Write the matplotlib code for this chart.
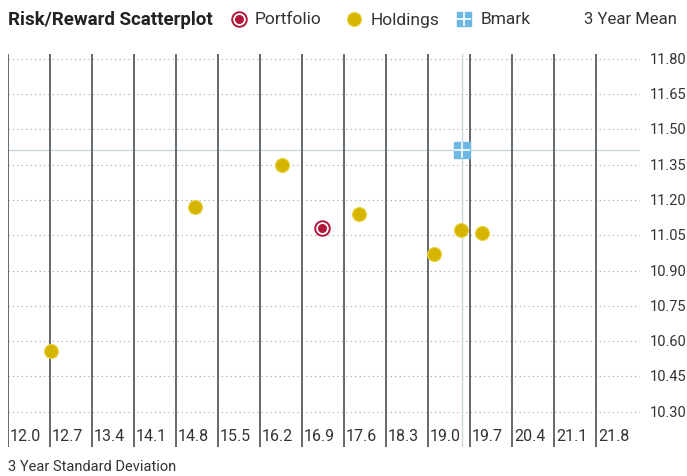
import matplotlib.pyplot as plt

# Datos
x_ticks = [12.0, 12.7, 13.4, 14.1, 14.8, 15.5, 16.2, 16.9, 17.6, 18.3, 19.0, 19.7, 20.4, 21.1, 21.8]
y_ticks = [11.80, 11.65, 11.50, 11.35, 11.20, 11.05, 10.90, 10.75, 10.60, 10.45, 10.30]

holdings_sd = [12.71, 15.12, 16.57, 17.85, 19.10, 19.55, 19.90]
holdings_mean = [10.56, 11.17, 11.35, 11.14, 10.97, 11.07, 11.06]

portfolio_sd = [17.23]
portfolio_mean = [11.08]

bmark_sd = [19.57]
bmark_mean = [11.41]

plt.rcParams['font.family'] = ['Roboto', 'DejaVu Sans']

fig = plt.figure(figsize=(6.87, 4.77), dpi=100)
ax = fig.add_axes([8 / 687, 1 - 448 / 477, 632 / 687, 393 / 477])
ax.set_xlim(12.0, 22.53)
ax.set_ylim(10.15, 11.82)
for s in ax.spines.values():
    s.set_visible(False)
ax.set_xticks([])
ax.set_yticks([])

# lineas de cuadricula
for y in y_ticks:
    ax.axhline(y, color='#a0a0a0', lw=0.8, ls=(0, (1, 3)), zorder=1)
for x in x_ticks:
    ax.axvline(x, color='#585e66', lw=1.3, zorder=2)
    ax.text(x + 0.03, 10.20, f'{x:.1f}', fontsize=11.5, color='#333333',
            ha='left', va='center')

# cruz del benchmark
ax.axhline(bmark_mean[0], color='#c9d6de', lw=1.0, zorder=1.5)
ax.axvline(bmark_sd[0], color='#c9d6de', lw=1.0, zorder=1.5)

# etiquetas del eje y a la derecha
for y in y_ticks:
    ax.text(22.53 + 10 / 60, y, f'{y:.2f}', fontsize=10.5, color='#333333',
            ha='left', va='center', clip_on=False)

ax.scatter(holdings_sd, holdings_mean, s=100, color='#d6b500', edgecolor='#e8d23a',
           linewidth=0.8, zorder=5)
ax.scatter(portfolio_sd, portfolio_mean, s=110, color='white', edgecolor='#b0173a',
           linewidth=1.4, zorder=5)
ax.scatter(portfolio_sd, portfolio_mean, s=30, color='#b0173a', zorder=6)
ax.scatter(bmark_sd, bmark_mean, s=120, marker='s', color='#6db8e3', zorder=5)
ax.scatter(bmark_sd, bmark_mean, s=120, marker='+', color='white', linewidth=1.2, zorder=6)

# encabezado y leyenda
fig.text(8 / 687, 1 - 20 / 477, 'Risk/Reward Scatterplot', fontsize=13.5,
         fontweight='bold', color='#222222', va='center', ha='left')
fig.text(255 / 687, 1 - 20 / 477, 'Portfolio', fontsize=12.5, color='#333333',
         va='center', ha='left')
fig.text(371 / 687, 1 - 20 / 477, 'Holdings', fontsize=12.5, color='#333333',
         va='center', ha='left')
fig.text(481 / 687, 1 - 20 / 477, 'Bmark', fontsize=12.5, color='#333333',
         va='center', ha='left')
fig.text(584 / 687, 1 - 20 / 477, '3 Year Mean', fontsize=12, color='#333333',
         va='center', ha='left')

lg = fig.add_axes([0, 1 - 40 / 477, 1, 40 / 477])
lg.set_xlim(0, 687)
lg.set_ylim(40, 0)
lg.axis('off')
lg.scatter([239], [20], s=110, color='white', edgecolor='#b0173a', linewidth=1.4)
lg.scatter([239], [20], s=30, color='#b0173a')
lg.scatter([354], [20], s=100, color='#d6b500', edgecolor='#e8d23a', linewidth=0.8)
lg.scatter([464], [20], s=110, marker='s', color='#6db8e3')
lg.scatter([464], [20], s=110, marker='+', color='white', linewidth=1.2)

fig.text(8 / 687, 1 - 467 / 477, '3 Year Standard Deviation', fontsize=10.5,
         color='#333333', va='center', ha='left')

fig.savefig('out.png', dpi=100)
